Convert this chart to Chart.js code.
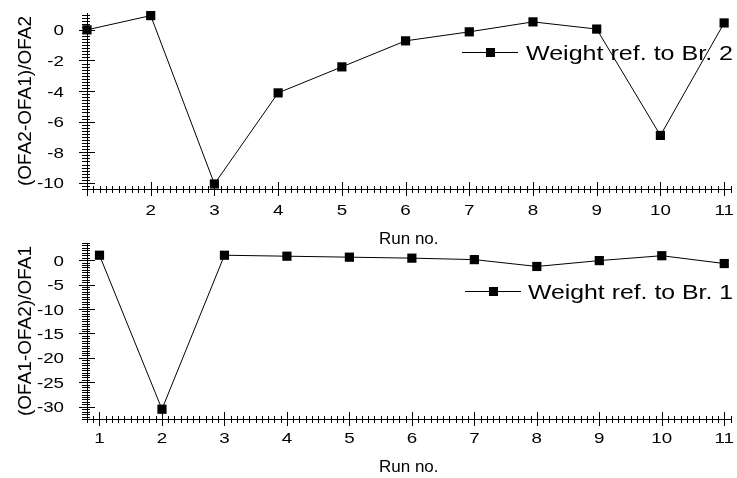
<!DOCTYPE html>
<html>
<head>
<meta charset="utf-8">
<script src="https://cdn.jsdelivr.net/npm/chart.js@4.4.1/dist/chart.umd.min.js"></script>
<style>
html, body { margin: 0; padding: 0; background: #fff; }
#wrap { position: relative; width: 737px; height: 478px; overflow: hidden; }
.box { position: absolute; left: 0; width: 737px; }
</style>
</head>
<body>
<div id="wrap">
  <div class="box" style="top:0;height:250px"><canvas id="chartTop"></canvas></div>
  <div class="box" style="top:230px;height:248px"><canvas id="chartBottom"></canvas></div>
</div>
<script>
// data
var runs = [1, 2, 3, 4, 5, 6, 7, 8, 9, 10, 11];
var weightBr2 = [0.0, 0.93, -10.07, -4.12, -2.42, -0.72, -0.13, 0.52, 0.05, -6.9, 0.45];
var weightBr1 = [1.0, -30.5, 1.0, 0.8, 0.6, 0.4, 0.1, -1.3, -0.1, 0.9, -0.7];

var topXTicks = [2, 3, 4, 5, 6, 7, 8, 9, 10, 11];
var bottomXTicks = [1, 2, 3, 4, 5, 6, 7, 8, 9, 10, 11];
var topYTicks = [0, -2, -4, -6, -8, -10];
var bottomYTicks = [0, -5, -10, -15, -20, -25, -30];

var FONT = '"Liberation Sans", Arial, sans-serif';

// small ticks + big ticks crossing the axes, and the (wide) tick labels
var axisTicks = {
    id: 'axisTicks',
    afterDraw: function (chart, args, opts) {
        var ctx = chart.ctx, xs = chart.scales.x, ys = chart.scales.y, a = chart.chartArea;
        ctx.save();
        ctx.strokeStyle = '#000';
        ctx.fillStyle = '#000';
        ctx.lineWidth = 1;
        ctx.beginPath();
        var i, v, p, big;
        for (i = Math.ceil(xs.min / opts.xStep - 1e-6); i * opts.xStep <= xs.max + 1e-9; i++) {
            v = i * opts.xStep;
            big = Math.abs(v / opts.xMajor - Math.round(v / opts.xMajor)) < 1e-6;
            p = Math.round(xs.getPixelForValue(v)) + 0.5;
            ctx.moveTo(p, a.bottom - (big ? 7 : 3));
            ctx.lineTo(p, a.bottom + (big ? 7 : 4));
        }
        for (i = Math.ceil(ys.min / opts.yStep - 1e-6); i * opts.yStep <= ys.max + 1e-9; i++) {
            v = i * opts.yStep;
            big = Math.abs(v / opts.yMajor - Math.round(v / opts.yMajor)) < 1e-6;
            p = Math.round(ys.getPixelForValue(v)) + 0.5;
            ctx.moveTo(a.left - (big ? 8 : 5), p);
            ctx.lineTo(a.left + (big ? 8 : 3), p);
        }
        ctx.stroke();

        // labels, stretched sideways like the original
        ctx.font = '15px ' + FONT;
        ctx.textBaseline = 'alphabetic';
        ctx.textAlign = 'center';
        xs.ticks.forEach(function (t) {
            ctx.save();
            ctx.translate(xs.getPixelForValue(t.value), a.bottom + opts.xLabelY);
            ctx.scale(1.25, 1);
            ctx.fillText(String(t.value), 0, 0);
            ctx.restore();
        });
        ctx.textAlign = 'right';
        ys.ticks.forEach(function (t) {
            ctx.save();
            ctx.translate(a.left - 23, ys.getPixelForValue(t.value) + 5.5);
            ctx.scale(1.25, 1);
            ctx.fillText(String(t.value), 0, 0);
            ctx.restore();
        });
        ctx.restore();
    }
};

// legend: line with square marker, then the label
var sampleLegend = {
    id: 'sampleLegend',
    afterDraw: function (chart, args, opts) {
        var ctx = chart.ctx;
        var y = Math.round(chart.chartArea.top + opts.dy) + 0.5;
        var text = chart.data.datasets[0].label;
        ctx.save();
        ctx.strokeStyle = '#000';
        ctx.fillStyle = '#000';
        ctx.lineWidth = 1;
        ctx.beginPath();
        ctx.moveTo(opts.x0, y);
        ctx.lineTo(opts.x1, y);
        ctx.stroke();
        var mx = (opts.x0 + opts.x1) / 2;
        ctx.fillRect(Math.round(mx - 4.5), Math.round(y - 4.5), 9, 9);
        ctx.font = '21px ' + FONT;
        ctx.textBaseline = 'alphabetic';
        var w = ctx.measureText(text).width;
        ctx.translate(opts.textX, y + 7.5);
        ctx.scale(opts.textW / w, 1);
        ctx.fillText(text, 0, 0);
        ctx.restore();
    }
};

function makeChart(id, values, label, xMin, xMax, xTicks, yMin, yMax, yTicks, yTitle, tickOpts, legendOpts, xHeight) {
    var pts = [];
    for (var i = 0; i < runs.length; i++) {
        pts.push({x: runs[i], y: values[i]});
    }
    var ctx = document.getElementById(id).getContext('2d');
    return new Chart(ctx, {
        type: 'line',
        data: {
            datasets: [{
                label: label,
                data: pts,
                borderColor: '#000',
                borderWidth: 1,
                backgroundColor: '#000',
                pointStyle: 'rect',
                pointRadius: 6.5,
                pointBorderWidth: 0,
                pointBackgroundColor: '#000',
                tension: 0,
                clip: false
            }]
        },
        options: {
            responsive: true,
            maintainAspectRatio: false,
            animation: false,
            layout: { padding: { top: 13, right: 4, left: 0, bottom: 0 } },
            plugins: {
                legend: { display: false },
                tooltip: { enabled: false },
                axisTicks: tickOpts,
                sampleLegend: legendOpts
            },
            scales: {
                x: {
                    type: 'linear',
                    min: xMin,
                    max: xMax,
                    afterBuildTicks: function (s) { s.ticks = xTicks.map(function (v) { return {value: v}; }); },
                    afterFit: function (s) { s.height = xHeight; },
                    grid: { display: false, drawTicks: false },
                    border: { display: true, color: '#000', width: 1 },
                    ticks: { display: false },
                    title: {
                        display: true, text: 'Run no.', color: '#000',
                        font: { family: FONT, size: 17 }, padding: { top: 2, bottom: 0 }
                    }
                },
                y: {
                    type: 'linear',
                    min: yMin,
                    max: yMax,
                    afterBuildTicks: function (s) { s.ticks = yTicks.map(function (v) { return {value: v}; }); },
                    afterFit: function (s) {
                        s.width = 87;
                        s.paddingTop = 0;
                        s.paddingBottom = 0;
                    },
                    grid: { display: false, drawTicks: false },
                    border: { display: true, color: '#000', width: 1 },
                    ticks: { display: false },
                    title: {
                        display: true, text: yTitle, color: '#000',
                        font: { family: FONT, size: 19 }, padding: { top: 14, bottom: 0 }
                    }
                }
            }
        },
        plugins: [axisTicks, sampleLegend]
    });
}

makeChart('chartTop', weightBr2, 'Weight ref. to Br. 2', 1.0, 11.1, topXTicks, -10.4, 1.1, topYTicks,
    '(OFA2-OFA1)/OFA2',
    { xStep: 0.1, xMajor: 1, yStep: 0.2, yMajor: 2, xLabelY: 26 },
    { dy: 39, x0: 462, x1: 518, textX: 526, textW: 207 }, 61);

makeChart('chartBottom', weightBr1, 'Weight ref. to Br. 1', 0.8, 11.1, bottomXTicks, -32.5, 3.5, bottomYTicks,
    '(OFA1-OFA2)/OFA1',
    { xStep: 0.1, xMajor: 1, yStep: 0.5, yMajor: 5, xLabelY: 24 },
    { dy: 48, x0: 465, x1: 521, textX: 528, textW: 205 }, 59);
</script>
</body>
</html>
